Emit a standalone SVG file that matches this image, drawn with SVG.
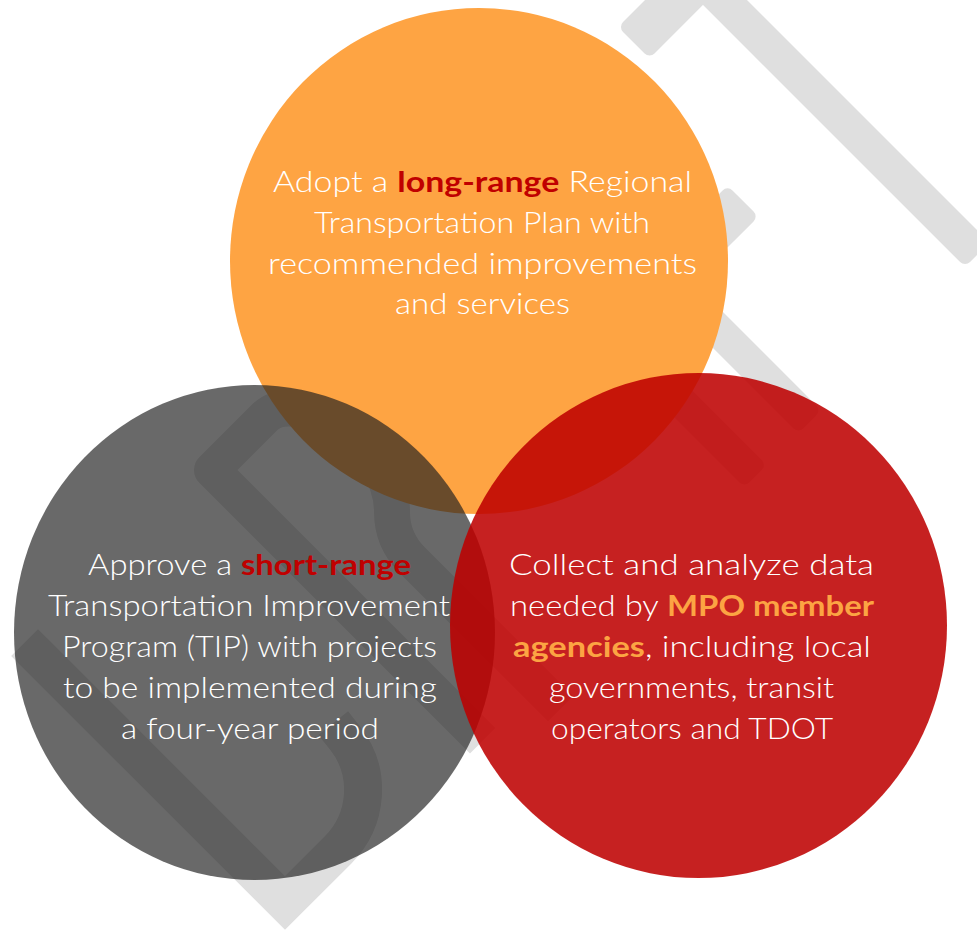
<svg xmlns="http://www.w3.org/2000/svg" width="977" height="930" viewBox="0 0 977 930">
<style>
.wm{fill:#dfdfdf}
.ws{fill:none;stroke:#dfdfdf;stroke-linecap:square}
.t{font-family:"Lato","Open Sans","DejaVu Sans",sans-serif;font-size:29px;font-weight:300;fill:#ffffff}
.b{font-weight:bold}
.red{fill:#c00000}
.org{fill:#fca443}
</style>
<rect width="977" height="930" fill="#ffffff"/>
<g id="watermark">
  <rect class="wm" x="350" y="-528.2" width="521.2" height="34.6" rx="7" transform="rotate(45)"/>
  <rect class="wm" x="456.1" y="-505" width="44.5" height="87" rx="7" transform="rotate(45)"/>
  <rect class="wm" x="645.6" y="-383.3" width="43.8" height="183.3" rx="7" transform="rotate(45)"/>
  <rect class="wm" x="600" y="-290.6" width="271" height="32.5" rx="7" transform="rotate(45)"/>
  <rect class="wm" x="600" y="-213.5" width="271" height="31.8" rx="7" transform="rotate(45)"/>
  <path class="ws" stroke-width="36" stroke-linejoin="round" d="M470,728 L212,470 L265,417 C295,387 392,440 392,512 Q392,540 412,560 L548,696"/>
  <path class="ws" stroke-width="38" stroke-linejoin="miter" d="M38,656 L285,903 L338,850 C368,820 372,772 345,738"/>
</g>
<g id="node-long-range">
  <ellipse cx="479" cy="261" rx="249" ry="253" fill="#fea443"/>
  <text class="t" x="273" y="192" textLength="419" lengthAdjust="spacingAndGlyphs">Adopt a <tspan class="b red">long-range</tspan> Regional</text>
  <text class="t" x="314" y="233" textLength="336" lengthAdjust="spacingAndGlyphs">Transportation Plan with</text>
  <text class="t" x="268" y="274" textLength="429" lengthAdjust="spacingAndGlyphs">recommended improvements</text>
  <text class="t" x="395" y="314" textLength="175" lengthAdjust="spacingAndGlyphs">and services</text>
</g>
<g id="node-short-range">
  <ellipse cx="254.5" cy="632.5" rx="240.5" ry="247.5" fill="#1f1f1f" fill-opacity="0.67"/>
  <text class="t" x="88" y="575" textLength="323" lengthAdjust="spacingAndGlyphs">Approve a <tspan class="b red">short-range</tspan></text>
  <text class="t" x="48" y="616" textLength="402" lengthAdjust="spacingAndGlyphs">Transportation Improvement</text>
  <text class="t" x="62" y="657" textLength="375" lengthAdjust="spacingAndGlyphs">Program (TIP) with projects</text>
  <text class="t" x="63" y="698" textLength="374" lengthAdjust="spacingAndGlyphs">to be implemented during</text>
  <text class="t" x="121" y="739" textLength="258" lengthAdjust="spacingAndGlyphs">a four-year period</text>
</g>
<g id="node-data">
  <ellipse cx="698.5" cy="625.5" rx="248.5" ry="252.5" fill="#be0000" fill-opacity="0.87"/>
  <text class="t" x="509" y="575" textLength="365" lengthAdjust="spacingAndGlyphs">Collect and analyze data</text>
  <text class="t" x="510" y="616" textLength="364" lengthAdjust="spacingAndGlyphs">needed by <tspan class="b org">MPO member</tspan></text>
  <text class="t" x="513" y="657" textLength="358" lengthAdjust="spacingAndGlyphs"><tspan class="b org">agencies</tspan>, including local</text>
  <text class="t" x="549" y="698" textLength="285" lengthAdjust="spacingAndGlyphs">governments, transit</text>
  <text class="t" x="551" y="739" textLength="282" lengthAdjust="spacingAndGlyphs">operators and TDOT</text>
</g>
</svg>
